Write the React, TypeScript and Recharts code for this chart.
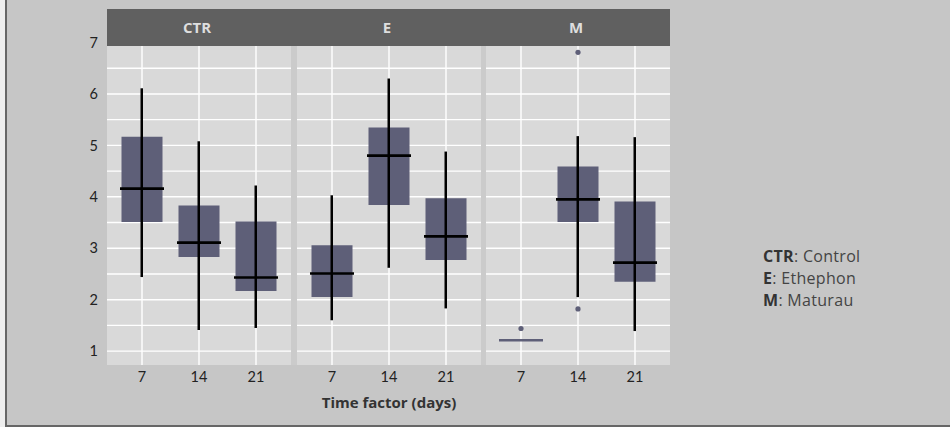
import React from 'react';
import { ComposedChart, Bar, Line, XAxis, YAxis, CartesianGrid } from 'recharts';

// categories and facets
const DAYS = ['7', '14', '21'];
const FACETS = ['CTR', 'E', 'M'];
const Y_TICKS = [1, 1.5, 2, 2.5, 3, 3.5, 4, 4.5, 5, 5.5, 6, 6.5, 7];

// box statistics per facet (whisker low, q1, median, q3, whisker high)
const CTR_LOW = [2.44, 1.41, 1.45];
const CTR_Q1 = [3.51, 2.83, 2.17];
const CTR_MED = [4.16, 3.11, 2.43];
const CTR_Q3 = [5.17, 3.83, 3.52];
const CTR_HIGH = [6.11, 5.08, 4.22];

const E_LOW = [1.6, 2.62, 1.83];
const E_Q1 = [2.05, 3.84, 2.77];
const E_MED = [2.51, 4.8, 3.23];
const E_Q3 = [3.06, 5.35, 3.97];
const E_HIGH = [4.03, 6.3, 4.88];

const M_LOW = [1.21, 2.05, 1.39];
const M_Q1 = [1.21, 3.51, 2.35];
const M_MED = [1.21, 3.95, 2.72];
const M_Q3 = [1.21, 4.59, 3.91];
const M_HIGH = [1.21, 5.18, 5.16];

// outliers (null = none)
const CTR_OUT1: (number | null)[] = [null, null, null];
const CTR_OUT2: (number | null)[] = [null, null, null];
const E_OUT1: (number | null)[] = [null, null, null];
const E_OUT2: (number | null)[] = [null, null, null];
const M_OUT1: (number | null)[] = [1.44, 6.81, null];
const M_OUT2: (number | null)[] = [null, 1.82, null];

const BOX_COLOR = '#5e5f78';
const PANEL_X = [107, 297, 486];
const PANEL_W = 184;
const PLOT_TOP = 42;
const PLOT_H = 323;
const Y_AXIS_W = 60;
const X_AXIS_H = 46;
const FONT = 'Lato, "Open Sans", sans-serif';
const WIDE_FONT = '"Open Sans", Lato, sans-serif';

const buildRows = (lo: number[], q1: number[], med: number[], q3: number[], hi: number[], o1: (number | null)[], o2: (number | null)[]) =>
  DAYS.map((day, i) => ({
    day,
    box: [q1[i], q3[i]],
    whisker: [lo[i], hi[i]],
    med: med[i],
    flat: q1[i] === q3[i],
    out1: o1[i],
    out2: o2[i],
  }));

const FACET_DATA = [
  buildRows(CTR_LOW, CTR_Q1, CTR_MED, CTR_Q3, CTR_HIGH, CTR_OUT1, CTR_OUT2),
  buildRows(E_LOW, E_Q1, E_MED, E_Q3, E_HIGH, E_OUT1, E_OUT2),
  buildRows(M_LOW, M_Q1, M_MED, M_Q3, M_HIGH, M_OUT1, M_OUT2),
];

const MedianMark = (props: any) => {
  const { cx, cy, payload, index } = props;
  if (cx == null || cy == null) return <g key={index} />;
  const flat = payload && payload.flat;
  return (
    <line
      key={index}
      x1={cx - 22}
      x2={cx + 22}
      y1={cy}
      y2={cy}
      stroke={flat ? BOX_COLOR : '#000'}
      strokeWidth={flat ? 2.5 : 2.6}
    />
  );
};

const OutlierDot = (props: any) => {
  const { cx, cy, value, index } = props;
  if (cx == null || cy == null || value == null) return <g key={index} />;
  return <circle key={index} cx={cx} cy={cy} r={2.6} fill={BOX_COLOR} />;
};

const tickStyle = { fontSize: 14.5, fill: '#222', fontFamily: FONT };

const Panel = ({ idx }: { idx: number }) => {
  const withY = idx === 0;
  const width = PANEL_W + (withY ? Y_AXIS_W : 0);
  const left = PANEL_X[idx] - (withY ? Y_AXIS_W : 0);
  const xPad = { left: 6.5, right: 6.5 };
  return (
    <div style={{ position: 'absolute', left, top: 0 }}>
      <ComposedChart
        width={width}
        height={PLOT_TOP + PLOT_H + X_AXIS_H}
        data={FACET_DATA[idx]}
        margin={{ top: PLOT_TOP, right: 0, bottom: 0, left: 0 }}
        barGap={0}
        barCategoryGap={0}
      >
        <CartesianGrid xAxisId="main" fill="#d9d9d9" stroke="#ffffff" strokeWidth={1.4} syncWithTicks />
        <XAxis
          xAxisId="main"
          dataKey="day"
          padding={xPad}
          tickLine={false}
          axisLine={false}
          tickSize={0}
          tickMargin={7}
          tick={tickStyle}
          height={X_AXIS_H}
          label={
            idx === 1
              ? { value: 'Time factor (days)', position: 'insideBottom', offset: 3, style: { fontSize: 15, fontWeight: 700, fill: '#333', fontFamily: WIDE_FONT } }
              : undefined
          }
        />
        <XAxis xAxisId="wh" dataKey="day" padding={xPad} hide />
        <YAxis
          domain={[0.73, 7.01]}
          allowDataOverflow
          ticks={Y_TICKS}
          interval={0}
          tickFormatter={(v: number) => (Number.isInteger(v) ? String(v) : '')}
          hide={!withY}
          width={Y_AXIS_W}
          tickLine={false}
          axisLine={false}
          tickSize={0}
          tickMargin={9}
          tick={tickStyle}
        />
        <Bar xAxisId="main" dataKey="box" fill={BOX_COLOR} barSize={41} isAnimationActive={false} />
        <Bar xAxisId="wh" dataKey="whisker" fill="#000" barSize={2.5} isAnimationActive={false} />
        <Line xAxisId="main" dataKey="med" stroke="none" strokeWidth={0} dot={MedianMark} activeDot={false} isAnimationActive={false} />
        <Line xAxisId="main" dataKey="out1" stroke="none" strokeWidth={0} dot={OutlierDot} activeDot={false} isAnimationActive={false} />
        <Line xAxisId="main" dataKey="out2" stroke="none" strokeWidth={0} dot={OutlierDot} activeDot={false} isAnimationActive={false} />
      </ComposedChart>
    </div>
  );
};

export default function App() {
  const stripLeft = PANEL_X[0];
  const stripW = PANEL_X[2] + PANEL_W - PANEL_X[0];
  return (
    <div style={{ position: 'absolute', left: 0, top: 0, width: 950, height: 427, background: '#eeeeee', overflow: 'hidden', fontFamily: WIDE_FONT }}>
      <div
        style={{
          position: 'absolute',
          left: 5,
          top: 0,
          width: 943,
          height: 425,
          background: '#c6c6c6',
          borderLeft: '2px solid #666',
          borderBottom: '2px solid #666',
        }}
      />
      {/* gaps between facets */}
      <div style={{ position: 'absolute', left: stripLeft, top: PLOT_TOP, width: stripW, height: PLOT_H, background: '#cbcbcb' }} />
      {FACETS.map((_, i) => (
        <Panel key={i} idx={i} />
      ))}
      {/* facet strip */}
      <div style={{ position: 'absolute', left: stripLeft, top: 9, width: stripW, height: 37, background: '#606060' }} />
      {FACETS.map((f, i) => (
        <div
          key={f}
          style={{
            position: 'absolute',
            left: PANEL_X[i] - 2,
            top: 9,
            width: PANEL_W,
            height: 37,
            lineHeight: '37px',
            textAlign: 'center',
            color: '#dedede',
            fontWeight: 700,
            fontSize: 15,
          }}
        >
          {f}
        </div>
      ))}
      <div style={{ position: 'absolute', left: 763, top: 245, fontSize: 16, letterSpacing: 0.3, lineHeight: '22px', color: '#444' }}>
        <div><b style={{ color: '#333' }}>CTR</b>: Control</div>
        <div><b style={{ color: '#333' }}>E</b>: Ethephon</div>
        <div><b style={{ color: '#333' }}>M</b>: Maturau</div>
      </div>
    </div>
  );
}
